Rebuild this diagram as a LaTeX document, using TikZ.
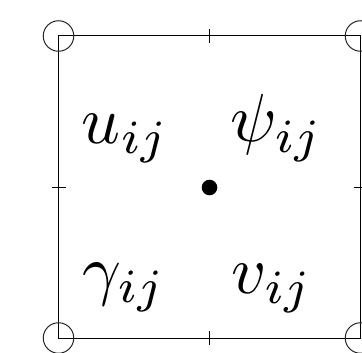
\documentclass[tikz,border=0pt]{standalone}
\begin{document}
\begin{tikzpicture}[x=1pt,y=1pt,
  cell/.style={line width=1pt,draw=black},
  tickline/.style={line width=1pt,draw=black},
  corner/.style={circle,draw=black!85,line width=1pt,minimum size=30.5pt,inner sep=0pt},
  lbl/.style={anchor=base west,inner sep=0pt,scale=6.8},
  centre/.style={circle,fill=black,minimum size=15.6pt,inner sep=0pt}]
\useasboundingbox (0,0) rectangle (362,-353);
\coordinate (nw) at (58.5,-36);
\coordinate (ne) at (360.5,-36);
\coordinate (sw) at (58.5,-338);
\coordinate (se) at (360.5,-338);
\draw[cell] (nw) -- (ne) -- (se) -- (sw) -- cycle;
\node[corner] (cnw) at (nw) {};
\node[corner] (cne) at (ne) {};
\node[corner] (csw) at (sw) {};
\node[corner] (cse) at (se) {};
\coordinate (tt1) at (209.5,-29); \coordinate (tt2) at (209.5,-43);
\coordinate (bt1) at (209.5,-331); \coordinate (bt2) at (209.5,-345);
\coordinate (lt1) at (51.5,-187); \coordinate (lt2) at (65.5,-187);
\coordinate (rt1) at (353.5,-187); \coordinate (rt2) at (367.5,-187);
\draw[tickline] (tt1) -- (tt2);
\draw[tickline] (bt1) -- (bt2);
\draw[tickline] (lt1) -- (lt2);
\draw[tickline] (rt1) -- (rt2);
\node[centre] (dot) at (209.5,-187.5) {};
\node[lbl] (u) at (80.5,-143) {$u_{ij}$};
\node[lbl] (psi) at (229,-142) {$\psi_{ij}$};
\node[lbl] (gamma) at (81,-292) {$\gamma_{ij}$};
\node[lbl] (v) at (230,-293) {$v_{ij}$};
\end{tikzpicture}
\end{document}
